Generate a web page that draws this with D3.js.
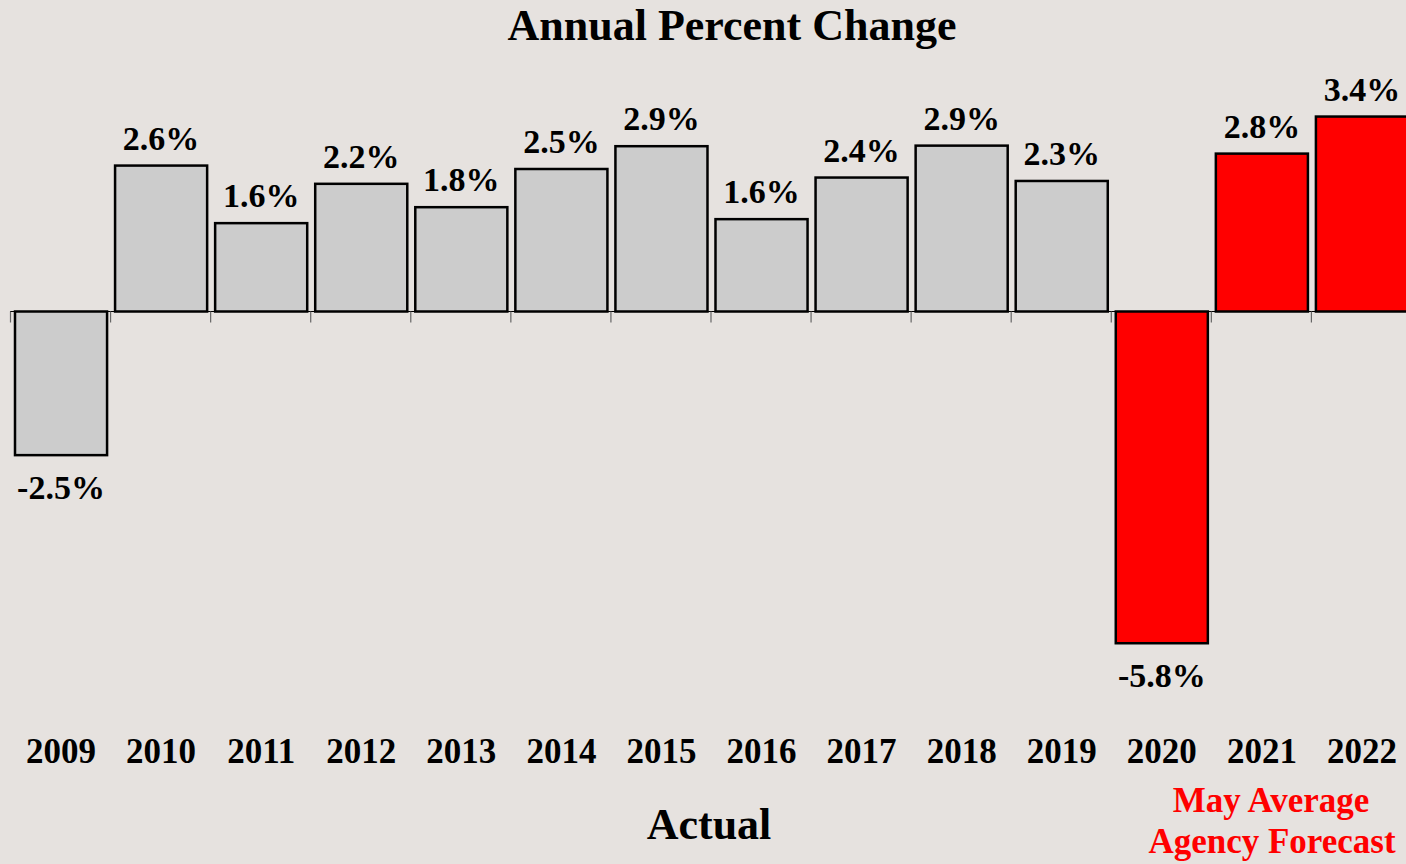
<!DOCTYPE html>
<html>
<head>
<meta charset="utf-8">
<script src="https://cdn.jsdelivr.net/npm/d3@7"></script>
<style>
  html, body { margin: 0; padding: 0; background: #e6e2df; }
  svg { display: block; }
  text { font-family: "Liberation Serif", "Times New Roman", serif; font-weight: bold; }
</style>
</head>
<body>
<div id="chart"></div>
<script>
var years = ["2009","2010","2011","2012","2013","2014","2015","2016","2017","2018","2019","2020","2021","2022"];
// bar heights (labels are the rounded values)
var values = [-2.52, 2.56, 1.55, 2.24, 1.83, 2.50, 2.90, 1.62, 2.35, 2.91, 2.29, -5.82, 2.77, 3.42];
var valueLabels = ["-2.5%","2.6%","1.6%","2.2%","1.8%","2.5%","2.9%","1.6%","2.4%","2.9%","2.3%","-5.8%","2.8%","3.4%"];
var forecastYears = ["2020","2021","2022"];

var fullWidth = 1406;
var fullHeight = 864;

var svg = d3.select("#chart").append("svg")
  .attr("width", fullWidth)
  .attr("height", fullHeight);

svg.append("rect").attr("width", fullWidth).attr("height", fullHeight).attr("fill", "#e6e2df");

var xScale = d3.scaleBand()
  .domain(years)
  .range([11, 11 + 14 * 100.07])
  .paddingInner(0.08)
  .paddingOuter(0.04);

var yScale = d3.scaleLinear()
  .domain([-5.82, 3.42])
  .range([311.5 + 5.82 * 57, 311.5 - 3.42 * 57]);

var data = years.map(function(y, i){
  return {year: y, value: values[i], label: valueLabels[i]};
});

// zero axis line with ticks between categories
svg.append("line")
  .attr("x1", 10).attr("x2", fullWidth)
  .attr("y1", yScale(0)).attr("y2", yScale(0))
  .attr("stroke", "#000").attr("stroke-width", 1.2);

svg.selectAll(".tick")
  .data(years)
  .enter()
  .append("line")
  .attr("class", "tick")
  .attr("x1", function(d){ return xScale(d) - xScale.step() * 0.04 - 0.5; })
  .attr("x2", function(d){ return xScale(d) - xScale.step() * 0.04 - 0.5; })
  .attr("y1", yScale(0))
  .attr("y2", yScale(0) + 11)
  .attr("stroke", "#666").attr("stroke-width", 1.2);

svg.selectAll(".bar")
  .data(data)
  .enter()
  .append("rect")
  .attr("class", "bar")
  .attr("x", function(d){ return xScale(d.year); })
  .attr("width", xScale.bandwidth())
  .attr("y", function(d){ return yScale(Math.max(0, d.value)); })
  .attr("height", function(d){ return Math.abs(yScale(d.value) - yScale(0)); })
  .attr("fill", function(d){ return forecastYears.indexOf(d.year) >= 0 ? "#ff0000" : "#cccccc"; })
  .attr("stroke", "#000")
  .attr("stroke-width", 2.5);

svg.selectAll(".val")
  .data(data)
  .enter()
  .append("text")
  .attr("class", "val")
  .attr("x", function(d){ return xScale(d.year) + xScale.bandwidth() / 2; })
  .attr("y", function(d){
    if(d.value < 0){
      return yScale(d.value) + 44;
    }
    return yScale(d.value) - 16;
  })
  .attr("text-anchor", "middle")
  .attr("font-size", 34)
  .attr("fill", "#000")
  .text(function(d){ return d.label; });

svg.selectAll(".year")
  .data(years)
  .enter()
  .append("text")
  .attr("class", "year")
  .attr("x", function(d){ return xScale(d) + xScale.bandwidth() / 2; })
  .attr("y", 763)
  .attr("text-anchor", "middle")
  .attr("font-size", 35)
  .attr("fill", "#000")
  .text(function(d){ return d; });

svg.append("text")
  .attr("x", 732).attr("y", 40)
  .attr("text-anchor", "middle")
  .attr("font-size", 44)
  .text("Annual Percent Change");

svg.append("text")
  .attr("x", 709).attr("y", 839)
  .attr("text-anchor", "middle")
  .attr("font-size", 44)
  .text("Actual");

svg.append("text")
  .attr("x", 1271).attr("y", 812)
  .attr("text-anchor", "middle")
  .attr("font-size", 35)
  .attr("fill", "#ff0000")
  .text("May Average");

svg.append("text")
  .attr("x", 1272).attr("y", 853)
  .attr("text-anchor", "middle")
  .attr("font-size", 35)
  .attr("fill", "#ff0000")
  .text("Agency Forecast");
</script>
</body>
</html>
